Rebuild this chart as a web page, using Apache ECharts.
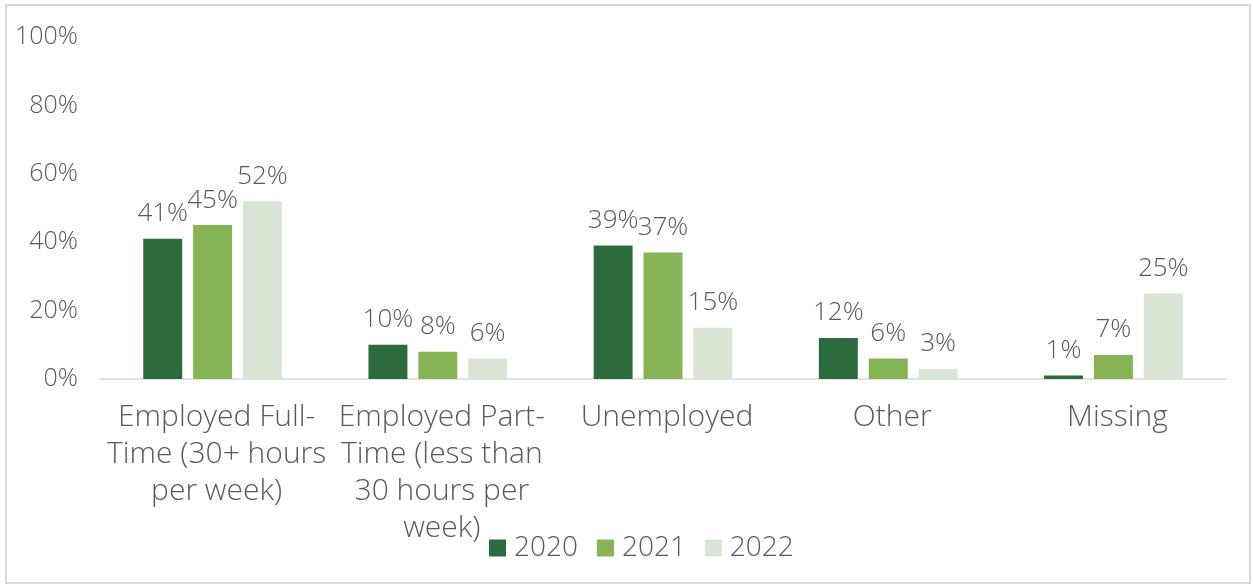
<!DOCTYPE html>
<html>
<head>
<meta charset="utf-8">
<script src="https://cdn.jsdelivr.net/npm/echarts@6/dist/echarts.min.js"></script>
<style>
  html, body { margin: 0; padding: 0; background: #fff; }
  #chart { width: 1253px; height: 587px; }
</style>
</head>
<body>
<div id="chart"></div>
<script>
// Employment status by year (share of respondents, %)
const categories = [
  'Employed Full-\nTime (30+ hours\nper week)',
  'Employed Part-\nTime (less than\n30 hours per\nweek)',
  'Unemployed',
  'Other',
  'Missing'
];
const years = ['2020', '2021', '2022'];
const values2020 = [41, 10, 39, 12, 1];
const values2021 = [45, 8, 37, 6, 7];
const values2022 = [52, 6, 15, 3, 25];
const yTicks = [0, 20, 40, 60, 80, 100];

const colors = ['#2c6b3b', '#86b354', '#d9e6d6'];
const textColor = '#595959';
const fontFamily = '"Open Sans", Lato, sans-serif';

const seriesValues = [values2020, values2021, values2022];

const chart = echarts.init(document.getElementById('chart'));
chart.setOption({
  animation: false,
  textStyle: { fontFamily: fontFamily },
  graphic: [{
    type: 'rect',
    shape: { x: 6, y: 5, width: 1244, height: 578 },
    style: { fill: 'none', stroke: '#d9d9d9', lineWidth: 2 },
    silent: true
  }],
  grid: { left: 100, right: 27, top: 37, bottom: 208 },
  legend: {
    data: years,
    bottom: 20,
    left: 484,
    itemWidth: 17,
    itemHeight: 17,
    itemGap: 19,
    icon: 'rect',
    textStyle: { fontSize: 28, color: textColor, fontFamily: fontFamily, fontWeight: 300, padding: [0, 0, 0, 3] }
  },
  xAxis: {
    type: 'category',
    data: categories,
    axisLine: { lineStyle: { color: '#d9d9d9', width: 1.5 } },
    axisTick: { show: false },
    axisLabel: {
      interval: 0,
      color: textColor,
      fontSize: 30,
      fontWeight: 300,
      lineHeight: 37,
      margin: 20,
      padding: [0, 0, 0, 8],
      fontFamily: fontFamily
    }
  },
  yAxis: {
    type: 'value',
    min: 0,
    max: 100,
    interval: 20,
    splitLine: { show: false },
    axisLine: { show: false },
    axisTick: { show: false },
    axisLabel: {
      color: textColor,
      fontSize: 25,
      fontWeight: 300,
      margin: 22,
      fontFamily: fontFamily,
      formatter: function (v) { return yTicks.indexOf(v) >= 0 ? v + '%' : ''; }
    }
  },
  series: years.map(function (y, i) {
    return {
      name: y,
      type: 'bar',
      data: seriesValues[i],
      barWidth: '17.3%',
      barGap: '28%',
      itemStyle: { color: colors[i] },
      label: {
        show: true,
        position: 'top',
        distance: 12,
        color: textColor,
        fontSize: 26,
        fontWeight: 300,
        fontFamily: fontFamily,
        formatter: '{c}%'
      }
    };
  })
});
</script>
</body>
</html>
